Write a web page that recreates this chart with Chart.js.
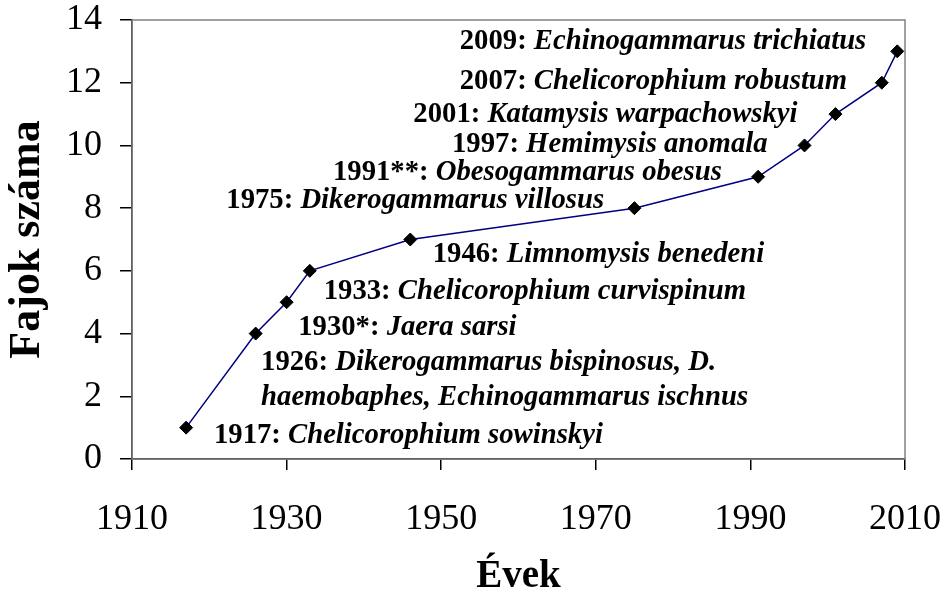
<!DOCTYPE html>
<html>
<head>
<meta charset="utf-8">
<script src="https://cdn.jsdelivr.net/npm/chart.js@4"></script>
<style>
  html, body { margin: 0; padding: 0; background: #fff; }
  #wrap { width: 945px; height: 596px; }
</style>
</head>
<body>
<div id="wrap"><canvas id="chart" width="945" height="596"></canvas></div>
<script>
// Years when a new species appeared and the cumulative species count
const years = [1917, 1926, 1930, 1933, 1946, 1975, 1991, 1997, 2001, 2007, 2009];
const counts = [1, 4, 5, 6, 7, 8, 9, 10, 11, 12, 13];

// Annotation labels (bold part, italic part) and their anchors in data units
const noteBold = ['2009: ', '2007: ', '2001: ', '1997: ', '1991**: ', '1975: ',
    '1946: ', '1933: ', '1930*: ', '1926: ', '', '1917: '];
const noteItalic = ['Echinogammarus trichiatus', 'Chelicorophium robustum',
    'Katamysis warpachowskyi', 'Hemimysis anomala', 'Obesogammarus obesus',
    'Dikerogammarus villosus', 'Limnomysis benedeni', 'Chelicorophium curvispinum',
    'Jaera sarsi', 'Dikerogammarus bispinosus, D.', 'haemobaphes, Echinogammarus ischnus',
    'Chelicorophium sowinskyi'];
const noteX = [1952.4, 1952.4, 1946.4, 1951.4, 1936.0, 1922.2, 1948.9, 1934.8, 1931.5, 1926.7, 1926.7, 1920.6];
const noteY = [13.3, 12.03, 10.97, 10.02, 9.12, 8.23, 6.51, 5.33, 4.18, 3.06, 1.95, 0.74];

const xTicks = [1910, 1930, 1950, 1970, 1990, 2010];

const SERIF = '"Liberation Serif", "Times New Roman", serif';

// gray frame round the plot area (top and right sides show gray)
const framePlugin = {
    id: 'frame',
    beforeDatasetsDraw(chart) {
        const { ctx, chartArea: a } = chart;
        ctx.save();
        ctx.strokeStyle = '#808080';
        ctx.lineWidth = 1.5;
        ctx.strokeRect(a.left, a.top, a.right - a.left, a.bottom - a.top);
        ctx.restore();
    }
};

// species annotations
const notesPlugin = {
    id: 'notes',
    afterDatasetsDraw(chart) {
        const { ctx, scales } = chart;
        ctx.save();
        ctx.fillStyle = '#000';
        ctx.textBaseline = 'middle';
        ctx.textAlign = 'left';
        noteBold.forEach((b, i) => {
            let x = scales.x.getPixelForValue(noteX[i]);
            const y = scales.y.getPixelForValue(noteY[i]);
            ctx.font = 'bold 28.7px ' + SERIF;
            ctx.fillText(b, x, y);
            x += ctx.measureText(b).width;
            ctx.font = 'italic bold 28.7px ' + SERIF;
            ctx.fillText(noteItalic[i], x, y);
        });
        ctx.restore();
    }
};

new Chart(document.getElementById('chart'), {
    type: 'line',
    data: {
        datasets: [{
            data: years.map((y, i) => ({ x: y, y: counts[i] })),
            borderColor: '#000080',
            borderWidth: 1.5,
            pointStyle: 'rectRot',
            pointRadius: 6.5,
            pointBackgroundColor: '#000',
            pointBorderColor: '#000',
            pointBorderWidth: 1,
            tension: 0
        }]
    },
    options: {
        responsive: false,
        animation: false,
        layout: { padding: { left: 0, right: 40, top: 20, bottom: 0 } },
        plugins: {
            legend: { display: false },
            tooltip: { enabled: false }
        },
        scales: {
            x: {
                type: 'linear',
                min: 1910,
                max: 2010,
                afterBuildTicks(scale) {
                    scale.ticks = xTicks.map(v => ({ value: v }));
                },
                afterFit(scale) {
                    scale.height = 137;
                    scale.paddingLeft = 0;
                    scale.paddingRight = 0;
                },
                grid: {
                    drawOnChartArea: false,
                    drawTicks: true,
                    tickLength: 11,
                    color: '#000',
                    lineWidth: 1.5
                },
                border: { color: '#000', width: 1.5 },
                ticks: {
                    color: '#000',
                    font: { family: SERIF, size: 36 },
                    padding: 28,
                    maxRotation: 0,
                    callback: v => String(v)
                },
                title: {
                    display: true,
                    text: 'Évek',
                    color: '#000',
                    font: { family: SERIF, size: 39, weight: 'bold', lineHeight: 1 },
                    padding: { top: 0, bottom: 0 }
                }
            },
            y: {
                min: 0,
                max: 14,
                afterFit(scale) {
                    scale.width = 132;
                    scale.paddingTop = 0;
                    scale.paddingBottom = 0;
                },
                grid: {
                    drawOnChartArea: false,
                    drawTicks: true,
                    tickLength: 12,
                    color: '#000',
                    lineWidth: 1.5
                },
                border: { color: '#000', width: 1.5 },
                ticks: {
                    stepSize: 2,
                    color: '#000',
                    font: { family: SERIF, size: 36 },
                    padding: 18
                },
                title: {
                    display: true,
                    text: 'Fajok száma',
                    color: '#000',
                    font: { family: SERIF, size: 44, weight: 'bold', lineHeight: 1 },
                    padding: { top: 6, bottom: 0 }
                }
            }
        }
    },
    plugins: [framePlugin, notesPlugin]
});
</script>
</body>
</html>
